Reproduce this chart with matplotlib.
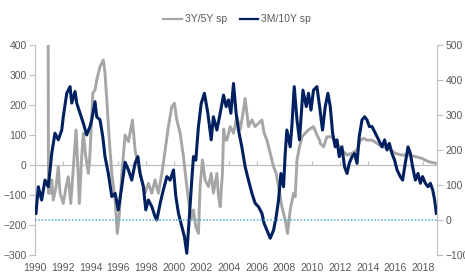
import matplotlib
matplotlib.use("Agg")
import matplotlib.pyplot as plt
from matplotlib.lines import Line2D

# ---- data (decimal years, basis points) ----
sp35_years = [1990.95, 1990.97, 1991.08, 1991.21, 1991.32, 1991.52, 1991.68, 1991.81, 1992.04, 1992.24,
              1992.40, 1992.58, 1992.77, 1992.96, 1993.08, 1993.20, 1993.37, 1993.49, 1993.66, 1993.85,
              1993.97, 1994.17, 1994.33, 1994.45, 1994.69, 1994.93, 1995.05, 1995.18, 1995.36, 1995.54,
              1995.78, 1995.94, 1996.09, 1996.26, 1996.50, 1996.74, 1997.03, 1997.22, 1997.46, 1997.70,
              1997.94, 1998.18, 1998.43, 1998.66, 1998.90, 1999.15, 1999.39, 1999.62, 1999.87, 2000.06,
              2000.23, 2000.47, 2000.71, 2000.90, 2001.07, 2001.26, 2001.43, 2001.60, 2001.79, 2001.91,
              2002.08, 2002.27, 2002.51, 2002.71, 2002.87, 2003.12, 2003.24, 2003.36, 2003.52, 2003.61,
              2003.72, 2003.84, 2004.08, 2004.32, 2004.56, 2004.80, 2005.00, 2005.16, 2005.40, 2005.65,
              2005.88, 2006.12, 2006.37, 2006.53, 2006.73, 2006.97, 2007.21, 2007.40, 2007.57, 2007.81,
              2008.05, 2008.22, 2008.41, 2008.65, 2008.77, 2008.90, 2009.08, 2009.26, 2009.49, 2009.73,
              2010.09, 2010.34, 2010.53, 2010.58, 2010.82, 2011.06, 2011.42, 2011.78, 2012.14, 2012.51,
              2012.87, 2013.23, 2013.47, 2013.70, 2013.95, 2014.31, 2014.67, 2015.03, 2015.51, 2015.99,
              2016.48, 2016.95, 2017.44, 2017.92, 2018.40, 2018.88]
sp35_values = [520, -94, -94, -50, -117, -72, -6, -94, -128, -72,
               -39, -128, -6, 117, 6, -128, 28, 106, 28, -28,
               39, 239, 250, 283, 328, 350, 306, 217, 83, -28,
               -117, -228, -161, -28, 100, 78, 150, 50, -6, -50,
               -94, -61, -94, -50, -94, -28, 50, 128, 194, 206,
               150, 106, 28, -50, -117, -183, -150, -206, -228, -72,
               17, -50, -72, -28, -94, -28, -106, -139, -28, 120,
               83, 83, 128, 106, 161, 117, 172, 222, 128, 150,
               128, 139, 150, 106, 83, 39, -6, -28, -72, -139,
               -183, -228, -150, -94, -106, 17, 61, 94, 106, 117,
               128, 100, 83, 72, 61, 94, 94, 72, 50, 33,
               39, 50, 83, 89, 83, 83, 72, 61, 56, 39,
               33, 33, 28, 22, 11, 6]

sp310_years = [1990.07, 1990.24, 1990.48, 1990.72, 1990.96, 1991.21, 1991.44, 1991.68, 1991.93, 1992.04,
               1992.29, 1992.53, 1992.65, 1992.89, 1993.01, 1993.25, 1993.49, 1993.73, 1993.97, 1994.09,
               1994.33, 1994.45, 1994.69, 1994.89, 1995.05, 1995.29, 1995.54, 1995.78, 1996.01, 1996.26,
               1996.50, 1996.74, 1996.98, 1997.22, 1997.42, 1997.58, 1997.82, 1997.99, 1998.18, 1998.43,
               1998.66, 1998.79, 1999.03, 1999.26, 1999.51, 1999.75, 1999.99, 2000.16, 2000.35, 2000.59,
               2000.78, 2000.95, 2001.12, 2001.31, 2001.43, 2001.60, 2001.79, 2001.99, 2002.22, 2002.47,
               2002.71, 2002.87, 2003.12, 2003.36, 2003.60, 2003.79, 2003.96, 2004.13, 2004.32, 2004.51,
               2004.68, 2004.92, 2005.16, 2005.40, 2005.65, 2005.88, 2006.12, 2006.37, 2006.53, 2006.73,
               2006.97, 2007.21, 2007.40, 2007.57, 2007.74, 2007.93, 2008.05, 2008.17, 2008.41, 2008.53,
               2008.70, 2008.90, 2009.08, 2009.33, 2009.57, 2009.73, 2009.91, 2010.09, 2010.34, 2010.53,
               2010.74, 2010.94, 2011.13, 2011.30, 2011.47, 2011.66, 2011.78, 2011.95, 2012.14, 2012.33,
               2012.51, 2012.67, 2012.87, 2013.05, 2013.23, 2013.39, 2013.59, 2013.78, 2013.95, 2014.12,
               2014.31, 2014.55, 2014.79, 2015.03, 2015.22, 2015.39, 2015.56, 2015.75, 2015.94, 2016.12,
               2016.35, 2016.52, 2016.71, 2016.91, 2017.08, 2017.24, 2017.44, 2017.63, 2017.80, 2017.96,
               2018.16, 2018.35, 2018.52, 2018.69, 2018.83, 2018.95]
sp310_values = [19, 95, 57, 114, 95, 191, 248, 229, 257, 295,
                362, 381, 334, 367, 334, 305, 276, 243, 267, 286,
                338, 295, 286, 238, 181, 133, 67, 76, 29, 95,
                165, 143, 114, 162, 181, 133, 95, 29, 57, 38,
                10, 0, 48, 86, 124, 114, 143, 67, 19, -19,
                -48, -95, 0, 114, 181, 171, 267, 333, 362, 305,
                229, 295, 257, 305, 357, 324, 343, 305, 390, 305,
                257, 209, 152, 114, 76, 48, 38, 19, -10, -29,
                -52, -29, 10, 57, 133, 95, 190, 257, 209, 267,
                381, 286, 229, 371, 324, 362, 314, 371, 381, 324,
                257, 324, 362, 324, 248, 209, 229, 181, 209, 152,
                133, 162, 181, 190, 162, 238, 286, 295, 286, 267,
                267, 248, 229, 209, 229, 200, 219, 190, 171, 143,
                124, 114, 162, 209, 190, 152, 114, 133, 105, 124,
                105, 95, 105, 86, 57, 19]

xtick_years = list(range(1990, 2019, 2))
left_ticks = [-300, -200, -100, 0, 100, 200, 300, 400]
right_ticks = [-100, 0, 100, 200, 300, 400, 500]
series_names = ["3Y/5Y sp", "3M/10Y sp"]

# ---- style ----
plt.rcParams['font.family'] = ['Liberation Sans', 'DejaVu Sans']
TXT = '#595959'
AX = '#BFBFBF'
GRAY = '#A6A6A6'
NAVY = '#002060'
FS = 7.5

fig = plt.figure(figsize=(4.65, 2.77), dpi=100)
ax = fig.add_axes([35/465, 1 - 255/277, (437 - 35)/465, 210/277])
ax.set_xlim(1990, 2019)
ax.set_ylim(-300, 400)
ax2 = ax.twinx()
ax2.set_ylim(-100, 500)

ax.plot(sp35_years, sp35_values, color=GRAY, lw=2.1, solid_joinstyle='round')
ax2.plot(sp310_years, sp310_values, color=NAVY, lw=2.2, solid_joinstyle='round')
ax2.axhline(0, color='#4BACC6', lw=1.1, ls=(0, (1, 1.2)))
ax.axhline(0, color=AX, lw=0.9, zorder=0.5)

for a in (ax, ax2):
    a.spines['top'].set_visible(False)
    a.spines['bottom'].set_visible(False)
ax.spines['right'].set_visible(False)
ax2.spines['left'].set_visible(False)
ax.spines['left'].set_color(AX)
ax2.spines['right'].set_color(AX)

ax.set_yticks(left_ticks)
ax2.set_yticks(right_ticks)
ax.tick_params(axis='y', length=4, color=AX, labelcolor=TXT, labelsize=FS, pad=2)
ax2.tick_params(axis='y', length=4, color=AX, labelcolor=TXT, labelsize=FS, pad=2)

ax.set_xticks(xtick_years)
ax.set_xticklabels([str(y) for y in xtick_years])
ax.tick_params(axis='x', length=0, labelcolor=TXT, labelsize=FS, pad=6)

sec = ax.secondary_xaxis(3/7)
sec.set_xticks(xtick_years)
sec.set_xticklabels([])
sec.tick_params(axis='x', length=3, direction='in', color=AX)
for s in sec.spines.values():
    s.set_visible(False)

handles = [Line2D([], [], color=GRAY, lw=1.6), Line2D([], [], color=NAVY, lw=1.6)]
leg = fig.legend(handles, series_names, loc='center', bbox_to_anchor=(0.51, 0.93), ncol=2,
                 frameon=False, fontsize=FS, handlelength=1.8, handletextpad=0.3, columnspacing=1.2)
for t in leg.get_texts():
    t.set_color(TXT)

fig.savefig('out.png', dpi=100)
